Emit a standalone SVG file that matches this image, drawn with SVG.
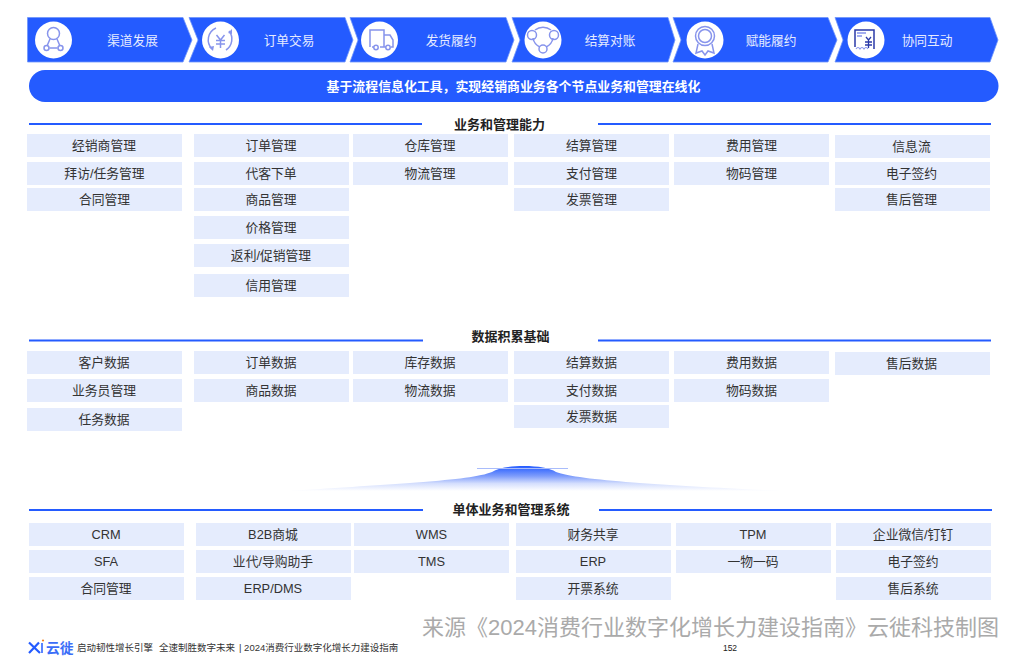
<svg xmlns="http://www.w3.org/2000/svg" width="1010" height="659" viewBox="0 0 1010 659">
<style>
text{font-family:"Liberation Sans","Noto Sans CJK SC",sans-serif}
.ch{fill:#245bff;stroke:#6f95fb;stroke-width:.8}
.ct{font-size:12.7px;fill:#e6ebff;text-anchor:middle}
.c{fill:#fff}
.i{fill:none;stroke:#8794ec;stroke-width:1.5}
.b{fill:#e5ecfd}
.bt{font-size:12.8px;fill:#333;text-anchor:middle}
.ht{font-size:13px;font-weight:700;fill:#222;text-anchor:middle}
.hl{stroke:#245bff;stroke-width:2;fill:none}
.ft{font-size:9.500px;fill:#333}
</style>
<defs>
<linearGradient id="m" x1="0" y1="0" x2="0" y2="1"><stop offset="0" stop-color="#245bff"/><stop offset=".4" stop-color="#7e9cfb"/><stop offset=".7" stop-color="#d4defd"/><stop offset="1" stop-color="#fff"/></linearGradient>
</defs>
<g id="chevrons">
<g id="step1"><path class="ch" d="M27.500 17.500H183L192 40L183 62H27.500Z"/><circle class="c" cx="53.500" cy="40" r="18.500"/><circle class="i" cx="53.500" cy="33.500" r="6" stroke-width="2"/><path class="i" stroke-width="2" d="M50 39L47 46M57 39L60 46M49.500 48H57.500"/><circle class="i" cx="46.500" cy="48" r="2.500" stroke-width="2"/><circle class="i" cx="60.500" cy="48" r="2.500" stroke-width="2"/><text class="ct" x="132.500" y="44.500">渠道发展</text></g>
<g id="step2"><path class="ch" d="M189 17.500H345L353 40L345 62H189L198 40Z"/><circle class="c" cx="220.500" cy="40" r="18.500"/><path class="i" d="M229 31A13 13 0 0 1 226 50M212 49A13 13 0 0 1 216 28"/><path d="M228 33L232 29L232 34ZM209 47L214 46L213 51Z" fill="#8794ec"/><path class="i" d="M216.500 35L220.500 40L224.500 35M216 40.500H225M216 44H225M220.500 40V48"/><text class="ct" x="289" y="44.500">订单交易</text></g>
<g id="step3"><path class="ch" d="M350 17.500H506L514 40L506 62H350L358 40Z"/><circle class="c" cx="379.500" cy="40" r="18.500"/><path class="i" d="M370 47V30H384V47M384 35H390L393 40V47H391M372 47H374M380 47H386"/><circle class="i" cx="376" cy="47.500" r="2.200"/><circle class="i" cx="388" cy="47.500" r="2.200"/><text class="ct" x="451" y="44.500">发货履约</text></g>
<g id="step4"><path class="ch" d="M512 17.500H668L675 40L668 62H512L520 40Z"/><circle class="c" cx="543" cy="40" r="18.500"/><path class="i" d="M535 30A13 13 0 0 1 551 30M546 47A12 12 0 0 0 553 38M540 47A12 12 0 0 1 533 38"/><circle class="i" cx="532" cy="35" r="4.500"/><circle class="i" cx="554" cy="35" r="4.500"/><circle class="i" cx="543" cy="49" r="4"/><text class="ct" x="610" y="44.500">结算对账</text></g>
<g id="step5"><path class="ch" d="M673 17.500H828L837 40L828 62H673L681 40Z"/><circle class="c" cx="705" cy="40" r="18.500"/><circle class="i" cx="705" cy="36" r="9.500"/><circle class="i" cx="705" cy="36" r="6.500"/><path class="i" d="M698 44L696 53L702 51L705 55L708 51L714 53L712 44" stroke-width="1"/><text class="ct" x="771" y="44.500">赋能履约</text></g>
<g id="step6"><path class="ch" d="M835 17.500H990L998 40L990 62H835L843 40Z"/><circle class="c" cx="866" cy="40" r="18.500"/><path d="M855 47V30H874V49" fill="none" stroke="#2b3aa8" stroke-width="1.500"/><path d="M857 33H866M857 36H862" stroke="#8794ec" stroke-width="1.500"/><path d="M866 37L868.500 40L871 37M865 42H872M865 45H872M868.500 40V48" fill="none" stroke="#2b3aa8" stroke-width="1.300"/><path d="M856 49Q858 46 860 49Q862 46 864 49Q866 46 868 49" fill="none" stroke="#8794ec" stroke-width="1.200"/><text class="ct" x="927" y="44.500">协同互动</text></g>
</g>
<g id="banner"><rect x="29" y="70" width="969.500" height="32" rx="16" fill="#245bff"/><text x="513.500" y="90.500" font-size="12.900" font-weight="700" fill="#fff" text-anchor="middle">基于流程信息化工具，实现经销商业务各个节点业务和管理在线化</text></g>
<g id="connectors">
<path class="hl" d="M29 124H422M598 124H991M29 340.500H423M598 340.500H991M29 510H423M599 510H992"/>
</g>
<g id="headers">
<text class="ht" x="499.500" y="128.500">业务和管理能力</text>
<text class="ht" x="510.500" y="341">数据积累基础</text>
<text class="ht" x="511" y="513.500">单体业务和管理系统</text>
</g>
<g id="mound">
<path d="M290 491C390 484 470 481 492 472C498 468 510 466 524 466C538 466 550 468 556 472C580 481 680 486 782 491Z" fill="url(#m)"/>
<path d="M477 468.500H568" stroke="#a9bcfb" stroke-width="1"/>
</g>
<g id="capability">
<g id="a1"><rect class="b" x="27" y="134" width="155" height="23"/><text class="bt" x="104" y="150">经销商管理</text></g>
<g id="a2"><rect class="b" x="27" y="162" width="155" height="23"/><text class="bt" x="104.500" y="178">拜访/任务管理</text></g>
<g id="a3"><rect class="b" x="27" y="188" width="155" height="23"/><text class="bt" x="104.500" y="204">合同管理</text></g>
<g id="a4"><rect class="b" x="194" y="134" width="155" height="23"/><text class="bt" x="271" y="150">订单管理</text></g>
<g id="a5"><rect class="b" x="194" y="162" width="155" height="23"/><text class="bt" x="271" y="178">代客下单</text></g>
<g id="a6"><rect class="b" x="194" y="188" width="155" height="23"/><text class="bt" x="271" y="204">商品管理</text></g>
<g id="a7"><rect class="b" x="194" y="216" width="155" height="23"/><text class="bt" x="271" y="232">价格管理</text></g>
<g id="a8"><rect class="b" x="194" y="244" width="155" height="23"/><text class="bt" x="271" y="260">返利/促销管理</text></g>
<g id="a9"><rect class="b" x="194" y="274" width="155" height="23"/><text class="bt" x="271" y="290">信用管理</text></g>
<g id="a10"><rect class="b" x="353" y="134" width="155" height="23"/><text class="bt" x="430" y="150">仓库管理</text></g>
<g id="a11"><rect class="b" x="353" y="162" width="155" height="23"/><text class="bt" x="430" y="178">物流管理</text></g>
<g id="a12"><rect class="b" x="514" y="134" width="155" height="23"/><text class="bt" x="591.500" y="150">结算管理</text></g>
<g id="a13"><rect class="b" x="514" y="162" width="155" height="23"/><text class="bt" x="591.500" y="178">支付管理</text></g>
<g id="a14"><rect class="b" x="514" y="188" width="155" height="23"/><text class="bt" x="591.500" y="204">发票管理</text></g>
<g id="a15"><rect class="b" x="674" y="134" width="155" height="23"/><text class="bt" x="751.500" y="150">费用管理</text></g>
<g id="a16"><rect class="b" x="674" y="162" width="155" height="23"/><text class="bt" x="751.500" y="178">物码管理</text></g>
<g id="a17"><rect class="b" x="835" y="135" width="155" height="23"/><text class="bt" x="911.500" y="151">信息流</text></g>
<g id="a18"><rect class="b" x="835" y="162" width="155" height="23"/><text class="bt" x="911.500" y="178">电子签约</text></g>
<g id="a19"><rect class="b" x="835" y="188" width="155" height="23"/><text class="bt" x="911.500" y="204">售后管理</text></g>
</g>
<g id="data">
<g id="d1"><rect class="b" x="27" y="351" width="155" height="23"/><text class="bt" x="104" y="367">客户数据</text></g>
<g id="d2"><rect class="b" x="27" y="379" width="155" height="23"/><text class="bt" x="104" y="395">业务员管理</text></g>
<g id="d3"><rect class="b" x="27" y="408" width="155" height="23"/><text class="bt" x="104" y="424">任务数据</text></g>
<g id="d4"><rect class="b" x="194" y="351" width="155" height="23"/><text class="bt" x="271" y="367">订单数据</text></g>
<g id="d5"><rect class="b" x="194" y="379" width="155" height="23"/><text class="bt" x="271" y="395">商品数据</text></g>
<g id="d6"><rect class="b" x="353" y="351" width="155" height="23"/><text class="bt" x="430" y="367">库存数据</text></g>
<g id="d7"><rect class="b" x="353" y="379" width="155" height="23"/><text class="bt" x="430" y="395">物流数据</text></g>
<g id="d8"><rect class="b" x="514" y="351" width="155" height="23"/><text class="bt" x="591.500" y="367">结算数据</text></g>
<g id="d9"><rect class="b" x="514" y="379" width="155" height="23"/><text class="bt" x="591.500" y="395">支付数据</text></g>
<g id="d10"><rect class="b" x="514" y="405" width="155" height="23"/><text class="bt" x="591.500" y="421">发票数据</text></g>
<g id="d11"><rect class="b" x="674" y="351" width="155" height="23"/><text class="bt" x="751.500" y="367">费用数据</text></g>
<g id="d12"><rect class="b" x="674" y="379" width="155" height="23"/><text class="bt" x="751.500" y="395">物码数据</text></g>
<g id="d13"><rect class="b" x="835" y="352" width="155" height="23"/><text class="bt" x="911.500" y="368">售后数据</text></g>
</g>
<g id="systems">
<g id="s1"><rect class="b" x="29" y="523" width="155" height="23"/><text class="bt" x="106" y="539">CRM</text></g>
<g id="s2"><rect class="b" x="29" y="550" width="155" height="23"/><text class="bt" x="106" y="566">SFA</text></g>
<g id="s3"><rect class="b" x="29" y="577" width="155" height="23"/><text class="bt" x="106" y="593">合同管理</text></g>
<g id="s4"><rect class="b" x="196" y="523" width="155" height="23"/><text class="bt" x="273" y="539">B2B商城</text></g>
<g id="s5"><rect class="b" x="196" y="550" width="155" height="23"/><text class="bt" x="273" y="566">业代/导购助手</text></g>
<g id="s6"><rect class="b" x="196" y="577" width="155" height="23"/><text class="bt" x="273" y="593">ERP/DMS</text></g>
<g id="s7"><rect class="b" x="354" y="523" width="155" height="23"/><text class="bt" x="431.500" y="539">WMS</text></g>
<g id="s8"><rect class="b" x="354" y="550" width="155" height="23"/><text class="bt" x="431.500" y="566">TMS</text></g>
<g id="s9"><rect class="b" x="516" y="523" width="155" height="23"/><text class="bt" x="593" y="539">财务共享</text></g>
<g id="s10"><rect class="b" x="516" y="550" width="155" height="23"/><text class="bt" x="593" y="566">ERP</text></g>
<g id="s11"><rect class="b" x="516" y="577" width="155" height="23"/><text class="bt" x="593" y="593">开票系统</text></g>
<g id="s12"><rect class="b" x="676" y="523" width="155" height="23"/><text class="bt" x="753" y="539">TPM</text></g>
<g id="s13"><rect class="b" x="676" y="550" width="155" height="23"/><text class="bt" x="753" y="566">一物一码</text></g>
<g id="s14"><rect class="b" x="836" y="523" width="155" height="23"/><text class="bt" x="913" y="539">企业微信/钉钉</text></g>
<g id="s15"><rect class="b" x="836" y="550" width="155" height="23"/><text class="bt" x="913" y="566">电子签约</text></g>
<g id="s16"><rect class="b" x="836" y="577" width="155" height="23"/><text class="bt" x="913" y="593">售后系统</text></g>
</g>
<g id="footer">
<path d="M29 642.500L40 653M39 642.500L29 653" fill="none" stroke="#245bff" stroke-width="2.200"/><path d="M42 643V653" stroke="#245bff" stroke-width="1.500"/><circle cx="43" cy="640.500" r="1.100" fill="#f58220"/>
<text x="46" y="653" font-size="13.800" font-weight="700" fill="#3b6ef8">云徙</text>
<text class="ft" x="77" y="650.500">启动韧性增长引擎</text>
<text class="ft" x="159" y="650.500">全速制胜数字未来</text>
<text class="ft" x="239" y="650.500">| 2024消费行业数字化增长力建设指南</text>
<text x="730" y="650.500" font-size="8.500" fill="#222" text-anchor="middle">152</text>
<text x="422" y="634.500" font-size="22" fill="#aaa">来源《2024消费行业数字化增长力建设指南》云徙科技制图</text>
</g>
</svg>
